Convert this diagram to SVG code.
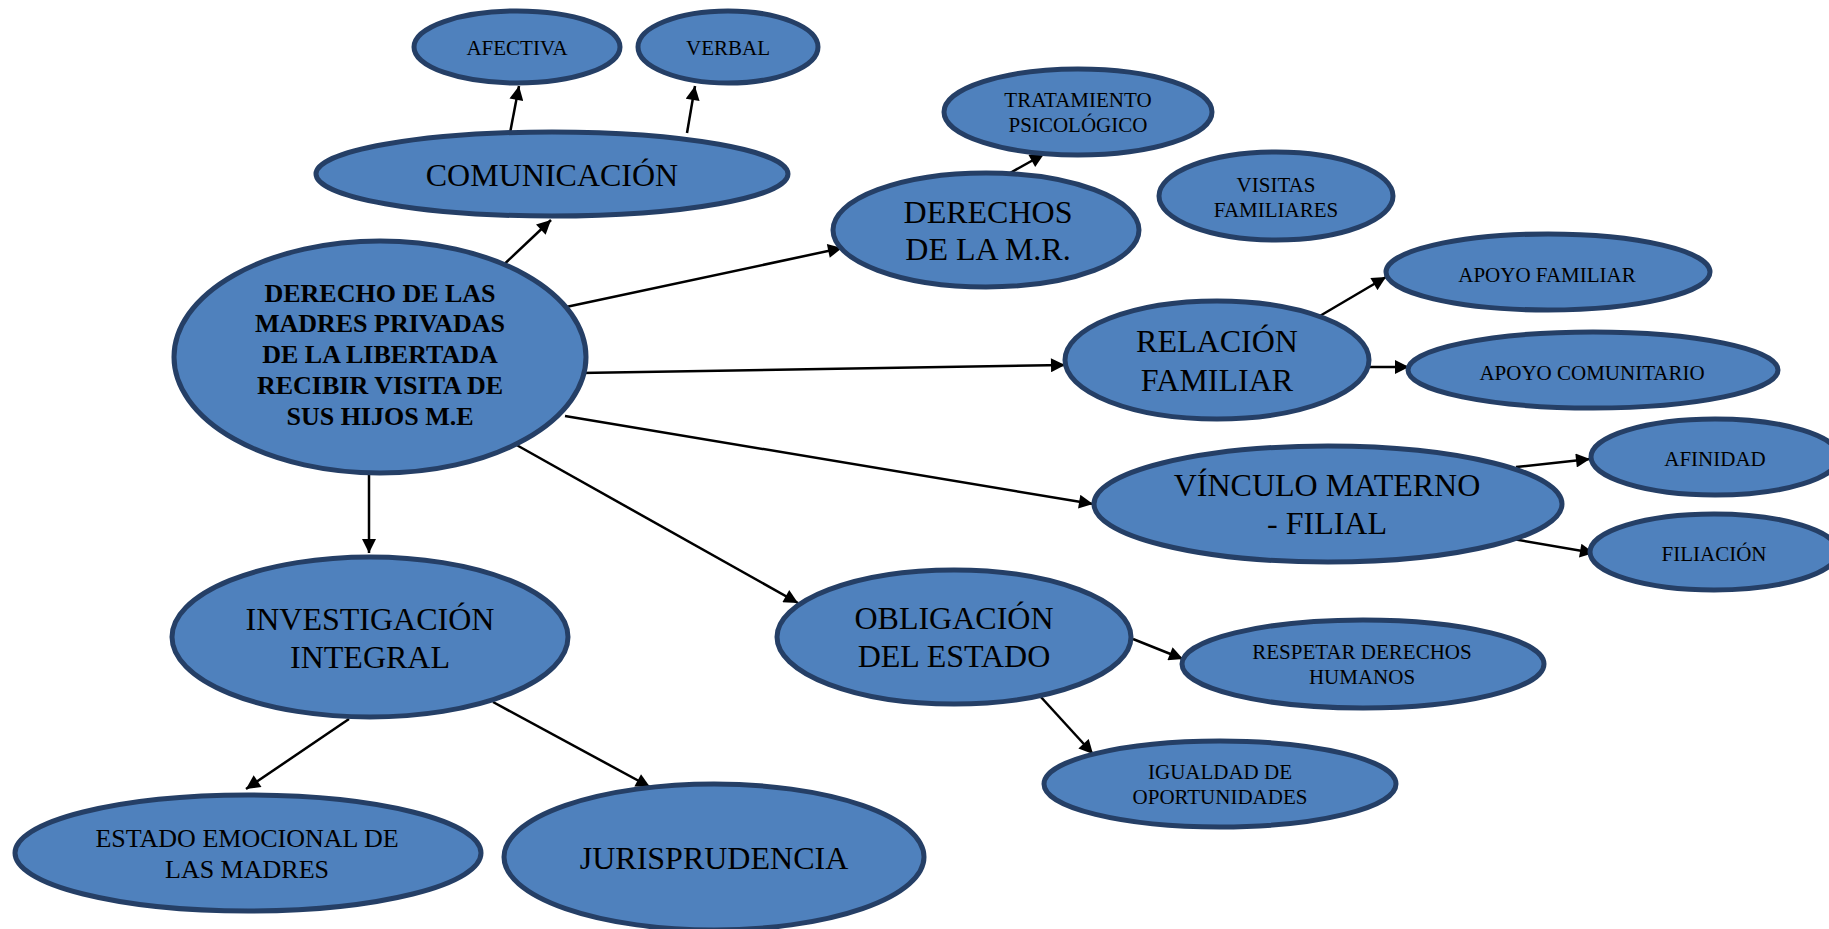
<svg xmlns="http://www.w3.org/2000/svg" width="1829" height="929" viewBox="0 0 1829 929">
<style>
.n{fill:#4F81BD;stroke:#253F66;stroke-width:5}
.t{font-family:"Liberation Serif","Times New Roman",serif;fill:#000;text-anchor:middle}
.s{font-size:21px}
.l{font-size:32px}
.m{font-size:26px}
.b{font-size:26px;font-weight:bold}
.e{stroke:#000;stroke-width:2.5;fill:none;marker-end:url(#ah)}
</style>
<defs>
<marker id="ah" viewBox="0 0 10 10" refX="10" refY="5" markerWidth="16" markerHeight="14" markerUnits="userSpaceOnUse" orient="auto">
<path d="M0,0 L10,5 L0,10 z" fill="#000"/>
</marker>
</defs>
<rect width="1829" height="929" fill="#fff"/>
<g id="connectors">
<line class="e" x1="497" y1="271" x2="551" y2="220"/>
<line class="e" x1="510" y1="133" x2="519" y2="86"/>
<line class="e" x1="687" y1="133" x2="695" y2="86"/>
<line class="e" x1="566" y1="307" x2="842" y2="248"/>
<line class="e" x1="1010" y1="173" x2="1044" y2="154"/>
<line class="e" x1="580" y1="373" x2="1065" y2="365"/>
<line class="e" x1="1313" y1="320" x2="1386" y2="277"/>
<line class="e" x1="1368" y1="367" x2="1409" y2="367"/>
<line class="e" x1="565" y1="416" x2="1093" y2="504"/>
<line class="e" x1="1516" y1="467" x2="1590" y2="459"/>
<line class="e" x1="1513" y1="539" x2="1594" y2="553"/>
<line class="e" x1="513" y1="443" x2="798" y2="603"/>
<line class="e" x1="369" y1="471" x2="369" y2="553"/>
<line class="e" x1="1133" y1="639" x2="1183" y2="659"/>
<line class="e" x1="1040" y1="696" x2="1093" y2="754"/>
<line class="e" x1="349" y1="719" x2="246" y2="789"/>
<line class="e" x1="493" y1="702" x2="650" y2="787"/>
</g>
<g id="afectiva"><ellipse class="n" cx="517" cy="47" rx="103" ry="36"/><text class="t s" x="517" y="55">AFECTIVA</text></g>
<g id="verbal"><ellipse class="n" cx="728" cy="47" rx="90" ry="36"/><text class="t s" x="728" y="55">VERBAL</text></g>
<g id="comunicacion"><ellipse class="n" cx="552" cy="174" rx="236" ry="42"/><text class="t l" x="552" y="186">COMUNICACIÓN</text></g>
<g id="central"><ellipse class="n" cx="380" cy="357" rx="206" ry="116"/>
<text class="t b" x="380" y="302">DERECHO DE LAS</text>
<text class="t b" x="380" y="332">MADRES PRIVADAS</text>
<text class="t b" x="380" y="363">DE LA LIBERTADA</text>
<text class="t b" x="380" y="394">RECIBIR VISITA DE</text>
<text class="t b" x="380" y="425">SUS HIJOS M.E</text></g>
<g id="derechos"><ellipse class="n" cx="986" cy="230" rx="153" ry="57"/><text class="t l" x="988" y="223">DERECHOS</text><text class="t l" x="988" y="260">DE LA M.R.</text></g>
<g id="tratamiento"><ellipse class="n" cx="1078" cy="112" rx="134" ry="43"/><text class="t s" x="1078" y="107">TRATAMIENTO</text><text class="t s" x="1078" y="132">PSICOLÓGICO</text></g>
<g id="visitas"><ellipse class="n" cx="1276" cy="196" rx="117" ry="44"/><text class="t s" x="1276" y="192">VISITAS</text><text class="t s" x="1276" y="217">FAMILIARES</text></g>
<g id="apoyo-familiar"><ellipse class="n" cx="1548" cy="272" rx="162" ry="38"/><text class="t s" x="1547" y="282">APOYO FAMILIAR</text></g>
<g id="relacion"><ellipse class="n" cx="1217" cy="360" rx="152" ry="59"/><text class="t l" x="1217" y="352">RELACIÓN</text><text class="t l" x="1217" y="391">FAMILIAR</text></g>
<g id="apoyo-comunitario"><ellipse class="n" cx="1593" cy="370" rx="185" ry="38"/><text class="t s" x="1592" y="380">APOYO COMUNITARIO</text></g>
<g id="afinidad"><ellipse class="n" cx="1715" cy="457" rx="124" ry="38"/><text class="t s" x="1715" y="466">AFINIDAD</text></g>
<g id="filiacion"><ellipse class="n" cx="1714" cy="552" rx="124" ry="38"/><text class="t s" x="1714" y="561">FILIACIÓN</text></g>
<g id="vinculo"><ellipse class="n" cx="1328" cy="504" rx="234" ry="58"/><text class="t l" x="1327" y="496">VÍNCULO MATERNO</text><text class="t l" x="1327" y="534">- FILIAL</text></g>
<g id="obligacion"><ellipse class="n" cx="954" cy="637" rx="177" ry="67"/><text class="t l" x="954" y="629">OBLIGACIÓN</text><text class="t l" x="954" y="667">DEL ESTADO</text></g>
<g id="respetar"><ellipse class="n" cx="1363" cy="664" rx="181" ry="44"/><text class="t s" x="1362" y="659">RESPETAR DERECHOS</text><text class="t s" x="1362" y="684">HUMANOS</text></g>
<g id="igualdad"><ellipse class="n" cx="1220" cy="784" rx="176" ry="43"/><text class="t s" x="1220" y="779">IGUALDAD DE</text><text class="t s" x="1220" y="804">OPORTUNIDADES</text></g>
<g id="investigacion"><ellipse class="n" cx="370" cy="637" rx="198" ry="80"/><text class="t l" x="370" y="630">INVESTIGACIÓN</text><text class="t l" x="370" y="668">INTEGRAL</text></g>
<g id="estado-emocional"><ellipse class="n" cx="248" cy="853" rx="233" ry="58"/><text class="t m" x="247" y="847">ESTADO EMOCIONAL DE</text><text class="t m" x="247" y="878">LAS MADRES</text></g>
<g id="jurisprudencia"><ellipse class="n" cx="714" cy="857" rx="210" ry="73"/><text class="t l" x="714" y="869">JURISPRUDENCIA</text></g>
</svg>
